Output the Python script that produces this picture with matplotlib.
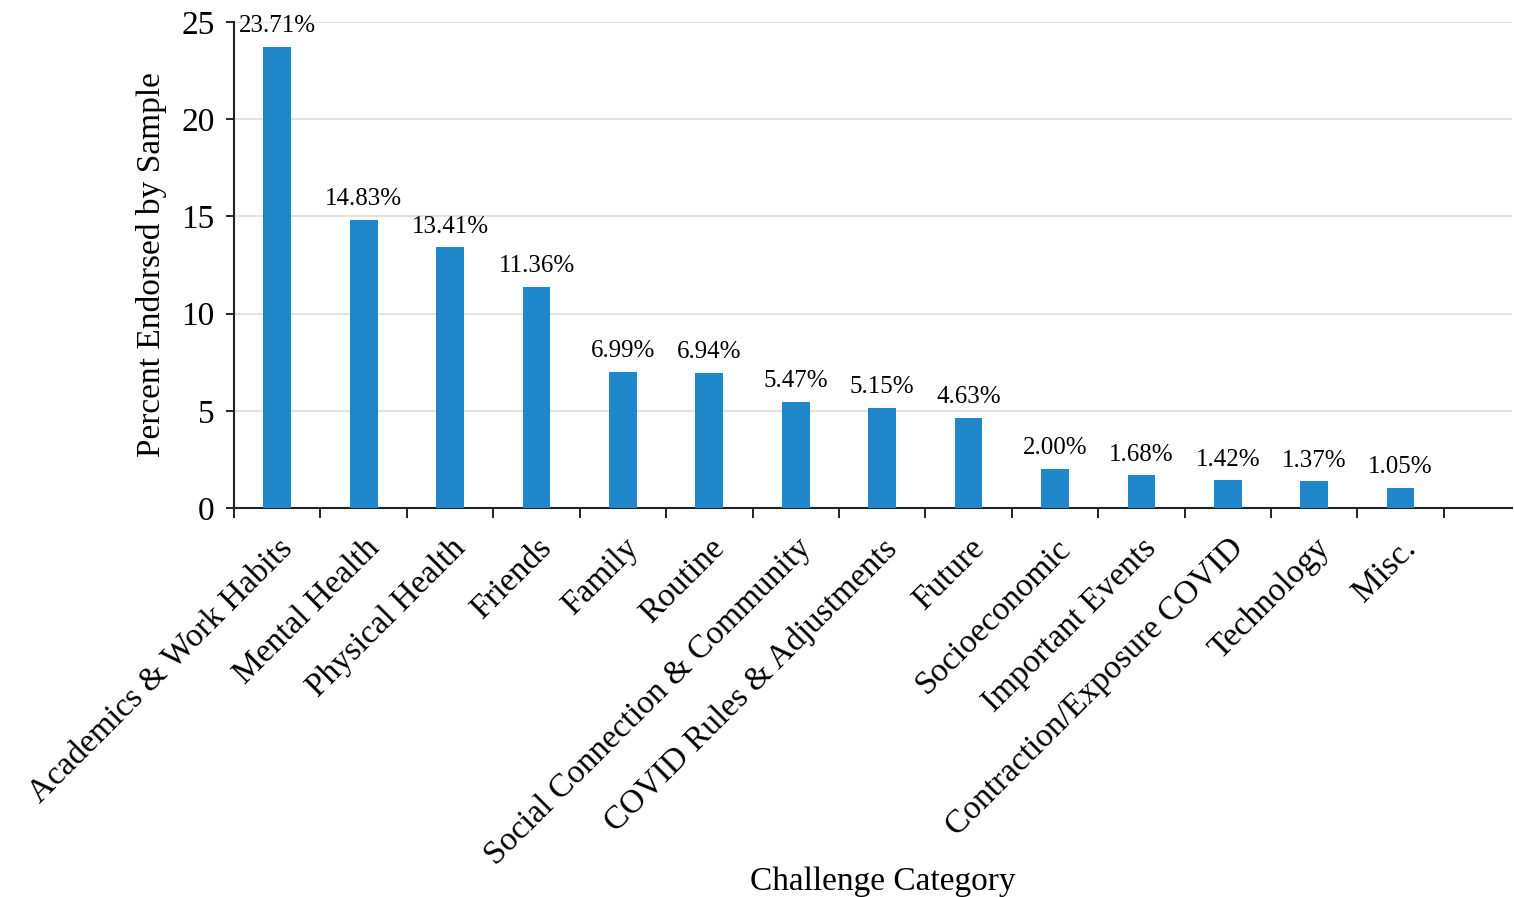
import numpy as np
import matplotlib
matplotlib.use('Agg')
import matplotlib.pyplot as plt

plt.rcParams['font.family'] = ['Liberation Serif', 'DejaVu Serif']

# challenge categories and percent endorsed
categories = ['Academics & Work Habits', 'Mental Health', 'Physical Health', 'Friends',
              'Family', 'Routine', 'Social Connection & Community',
              'COVID Rules & Adjustments', 'Future', 'Socioeconomic',
              'Important Events', 'Contraction/Exposure COVID', 'Technology', 'Misc.']
percents = [23.71, 14.83, 13.41, 11.36, 6.99, 6.94, 5.47, 5.15, 4.63, 2.00, 1.68, 1.42, 1.37, 1.05]
y_ticks = [0, 5, 10, 15, 20, 25]

fig = plt.figure(figsize=(15.14, 8.97), dpi=100)
ax = fig.add_axes([0.1546, 0.4337, 0.8441, 0.5418])

x = np.arange(len(categories))
bars = ax.bar(x, percents, width=0.32, color='#2187cb', zorder=3)

# value labels above bars
for xi, v in zip(x, percents):
    ax.annotate('%.2f%%' % v, (xi, v), xytext=(0, 7), textcoords='offset points',
                ha='center', va='bottom', fontsize=18, zorder=4)

ax.set_xlim(-0.5, 14.29)
ax.set_ylim(0, 25)
ax.set_yticks(y_ticks)
ax.tick_params(axis='y', labelsize=24, direction='out', length=6, width=1.2, pad=8)

# x ticks at category boundaries, labels at bar centers
ax.set_xticks(np.arange(len(categories) + 1) - 0.5)
ax.set_xticklabels([])
ax.set_xticks(x, minor=True)
ax.set_xticklabels(categories, minor=True, rotation=45, ha='right',
                   rotation_mode='anchor', fontsize=24)
ax.tick_params(axis='x', which='major', direction='out', length=7, width=1.2)
ax.tick_params(axis='x', which='minor', length=0, pad=18)

ax.grid(axis='y', color='#dddddd', linewidth=1.2, zorder=0)
ax.spines['top'].set_visible(False)
ax.spines['right'].set_visible(False)
ax.spines['left'].set_linewidth(1.5)
ax.spines['bottom'].set_linewidth(1.5)
ax.spines['left'].set_color('#222222')
ax.spines['bottom'].set_color('#222222')

ax.set_ylabel('Percent Endorsed by Sample', fontsize=24, labelpad=10)
fig.text(0.583, 0.0, 'Challenge Category', fontsize=24, ha='center', va='bottom')

fig.savefig('out.png', dpi=100)
